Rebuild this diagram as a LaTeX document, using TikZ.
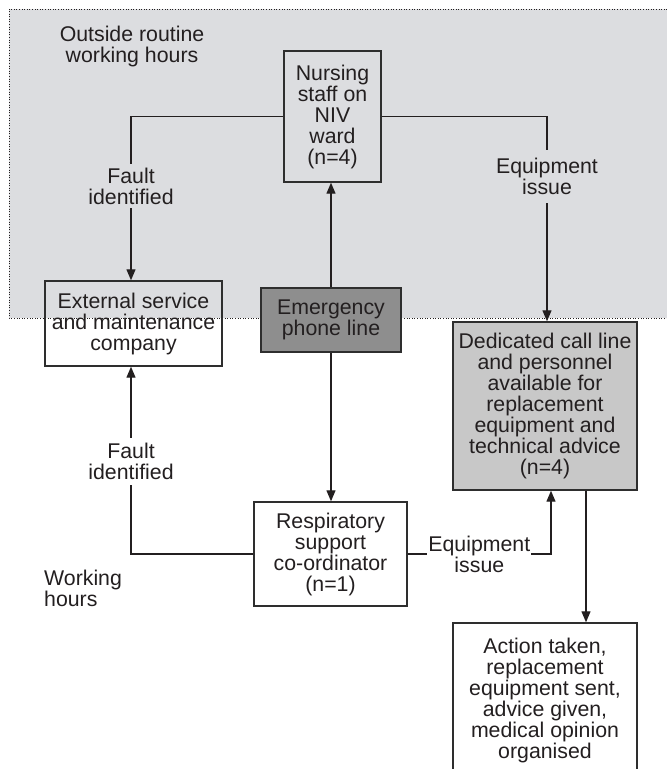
\documentclass[tikz,border=0pt]{standalone}
\usepackage{fontspec}
\setmainfont{Liberation Sans}
\usetikzlibrary{arrows.meta,calc}
\definecolor{txt}{HTML}{231F20}
\definecolor{bggray}{HTML}{DCDDE0}
\definecolor{darkfill}{HTML}{8E8E8E}
\definecolor{lightfill}{HTML}{C8C8C8}
\definecolor{edge}{HTML}{2E2E2E}
\tikzset{
  box/.style={draw=edge, line width=1.4pt, inner sep=0pt, align=center, text=txt,
              font=\fontsize{21.3}{21}\selectfont},
  lbl/.style={inner sep=2pt, align=center, text=txt, font=\fontsize{21.3}{21}\selectfont},
  conn/.style={draw=txt, line width=1.2pt},
  arr/.style={conn, -{Triangle[length=11pt,width=9pt]}},
}
\begin{document}
\begin{tikzpicture}[x=1pt,y=-1pt]
\useasboundingbox (0,0) rectangle (667,769);
% background region
\fill[bggray] (9,9) rectangle (670,318);
\draw[txt, line width=1pt, dash pattern=on 1pt off 1.6pt] (670,9) -- (9,9) -- (9,318) -- (670,318);

\node[lbl, anchor=center] (outside) at (132,46.5) {Outside routine\\working hours};
\node[lbl, anchor=west, align=left, inner sep=0pt] (working) at (44,588) {Working\\hours};

\node[box, minimum width=97pt, minimum height=131pt] (nurse) at (332.5,116.5)
  {Nursing\\staff on\\NIV\\ward\\(n=4)};
\node[box, minimum width=177pt, minimum height=85pt] (ext) at (133.5,323.5)
  {External service\\and maintenance\\company};
\node[box, fill=darkfill, minimum width=140pt, minimum height=64pt] (emerg) at (331,320)
  {Emergency\\phone line};
\node[box, fill=white, minimum width=153pt, minimum height=104pt] (resp) at (330.5,554)
  {Respiratory\\support\\co-ordinator\\(n=1)};
\node[box, fill=lightfill, minimum width=184pt, minimum height=168pt] (ded) at (545,406)
  {Dedicated call line\\and personnel\\available for\\replacement\\equipment and\\technical advice\\(n=4)};
\node[box, fill=white, minimum width=184pt, minimum height=154pt] (action) at (545,700)
  {Action taken,\\replacement\\equipment sent,\\advice given,\\medical opinion\\organised};

\coordinate (extN) at ($(ext.north)+(-2.5,0)$);
\coordinate (extS) at ($(ext.south)+(-2.5,0)$);
\coordinate (dedN) at ($(ded.north)+(2,0)$);
\coordinate (dedS) at ($(ded.south)+(6,0)$);
\coordinate (dedS2) at ($(ded.south)+(41,0)$);
\coordinate (actN) at ($(action.north)+(41,0)$);

% connectors
\draw[arr] (nurse.west) -| node[lbl, fill=bggray, pos=0.712, inner ysep=4pt] (fault1) {Fault\\identified} (extN);
\draw[arr] (nurse.east) -| node[lbl, fill=bggray, pos=0.647, inner ysep=8pt] (equip1) {Equipment\\issue} (dedN);
\draw[arr] (emerg.north) -- (emerg.north |- nurse.south);
\draw[arr] (emerg.south) -- (emerg.south |- resp.north);
\draw[arr] (resp.west) -| node[lbl, fill=white, pos=0.747, inner ysep=5pt] (fault2) {Fault\\identified} (extS);
\draw[arr] (resp.east) -| node[lbl, fill=white, pos=0.25, inner xsep=1pt, inner ysep=0pt] (equip2) {Equipment\\issue} (dedS);
\draw[arr] (dedS2) -- (actN);
\end{tikzpicture}
\end{document}
